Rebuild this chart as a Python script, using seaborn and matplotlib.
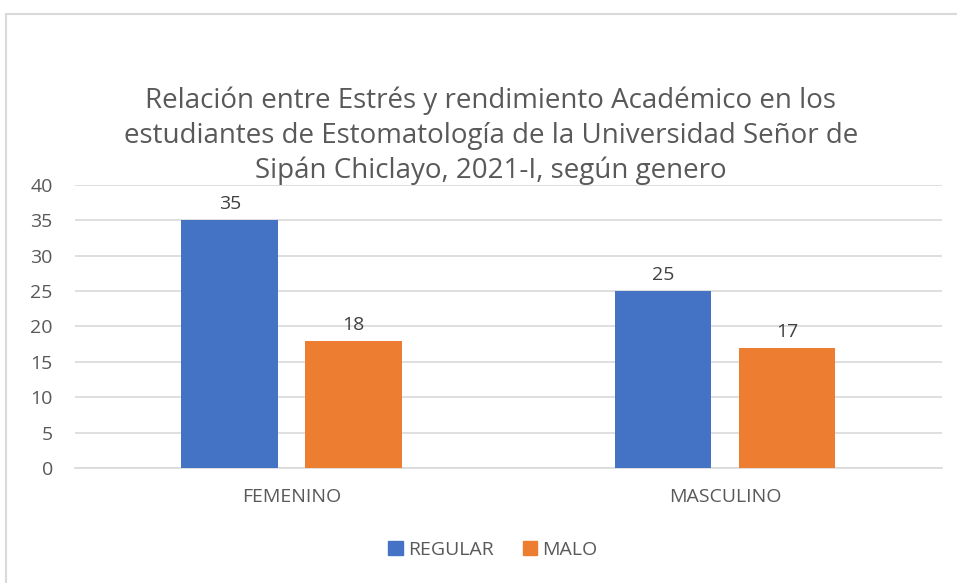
import matplotlib
matplotlib.use("Agg")
import matplotlib.pyplot as plt
import matplotlib.patches as mpatches
import pandas as pd
import seaborn as sns

# datos
GENEROS = ["FEMENINO", "MASCULINO"]
SERIES = ["REGULAR", "MALO"]
REGULAR = [35, 25]
MALO = [18, 17]
COLORES = ["#4472C4", "#ED7D31"]
TITULO = ("Relación entre Estrés y rendimiento Académico en los\n"
          "estudiantes de Estomatología de la Universidad Señor de\n"
          "Sipán Chiclayo, 2021-I, según genero")
Y_TICKS = [0, 5, 10, 15, 20, 25, 30, 35, 40]

GRIS = "#595959"
FS = 14

df = pd.DataFrame({
    "genero": GENEROS * 2,
    "serie": [SERIES[0]] * 2 + [SERIES[1]] * 2,
    "valor": REGULAR + MALO,
})

sns.set_theme(style="white")
plt.rcParams["font.family"] = ["Open Sans", "DejaVu Sans"]

fig = plt.figure(figsize=(9.57, 5.83), dpi=100)
ax = fig.add_axes([0.0784, 0.197, 0.9056, 0.486])

sns.barplot(data=df, x="genero", y="valor", hue="serie", hue_order=SERIES,
            palette=COLORES, width=0.572, gap=0.22, saturation=1,
            linewidth=0, ax=ax, legend=False, zorder=3)

for cont in ax.containers:
    ax.bar_label(cont, padding=5, fontsize=FS, color="#404040")

ax.set_ylim(0, 40)
ax.set_xlim(-0.5, 1.5)
ax.set_yticks(Y_TICKS)
ax.yaxis.grid(True, color="#D9D9D9", linewidth=1.2, zorder=0)
ax.set_axisbelow(True)
for s in ["left", "right", "top"]:
    ax.spines[s].set_visible(False)
ax.spines["bottom"].set_color("#D9D9D9")
ax.spines["bottom"].set_linewidth(1.2)
ax.tick_params(axis="both", length=0, labelsize=FS, labelcolor=GRIS)
ax.tick_params(axis="y", pad=16)
ax.tick_params(axis="x", pad=14)
ax.set_xlabel("")
ax.set_ylabel("")

fig.text(0.513, 0.767, TITULO, ha="center", va="center", fontsize=20,
         color=GRIS, linespacing=1.32)

handles = [mpatches.Patch(color=c, label=s) for c, s in zip(COLORES, SERIES)]
fig.legend(handles=handles, loc="center", bbox_to_anchor=(0.515, 0.057),
           ncol=2, frameon=False, fontsize=FS, handlelength=0.75,
           handleheight=0.75, handletextpad=0.25, columnspacing=1.5,
           labelcolor=GRIS)

# borde del área del gráfico
fig.patches.append(mpatches.Rectangle((6 / 957, -0.1), 1.2, 1 - 14 / 583 + 0.1,
                                      transform=fig.transFigure, fill=False,
                                      edgecolor="#D9D9D9", linewidth=1.5))

fig.savefig("out.png", dpi=100)
